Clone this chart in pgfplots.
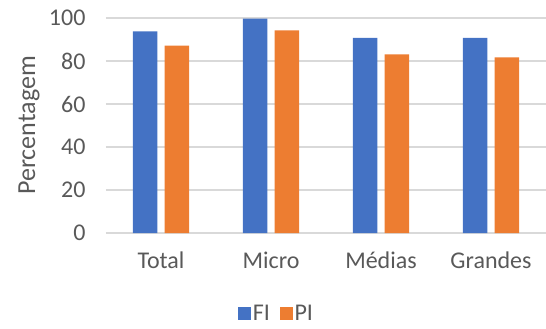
\documentclass[border=0pt]{standalone}
\usepackage{fontspec}
\setmainfont{Carlito}
\usepackage{pgfplots}
\pgfplotsset{compat=1.18}
\definecolor{fiblue}{HTML}{4472C4}
\definecolor{piorange}{HTML}{ED7D31}
\definecolor{gridgray}{HTML}{D9D9D9}
\definecolor{txtgray}{HTML}{595959}
\newcommand{\lblfont}{\fontsize{24bp}{28bp}\selectfont}
\newcommand{\ylblfont}{\fontsize{26bp}{30bp}\selectfont}
\begin{document}
\begin{tikzpicture}
\useasboundingbox (-106bp,-96bp) rectangle (440bp,233bp);
\begin{axis}[
  at={(0,0)}, anchor=south west,
  scale only axis,
  width=440bp, height=215bp,
  xmin=-0.5, xmax=3.5,
  ymin=0, ymax=100,
  ytick={0,20,...,100},
  xtick={0,1,2,3},
  xticklabels={Total,Micro,Médias,Grandes},
  ymajorgrids,
  grid style={gridgray, line width=1.2bp},
  axis line style={draw=none},
  major tick length=0pt,
  tick label style={font=\lblfont, text=txtgray},
  /pgf/number format/assume math mode=true,
  yticklabel style={xshift=-17bp},
  xticklabel style={yshift=-15bp},
  ylabel={Percentagem},
  ylabel style={font=\ylblfont, text=txtgray, at={(axis description cs:-0.175,0.5)}, anchor=center},
  ybar, bar width=0.222,
  legend columns=2,
  legend style={draw=none, fill=none, font=\lblfont, text=txtgray,
    at={(axis description cs:0.388,-0.375)}, anchor=center,
    /tikz/every even column/.append style={column sep=8bp}},
  legend image code/.code={\fill[#1] (0bp,-6.5bp) rectangle (12.5bp,6.5bp);},
]
\addplot[fill=fiblue, draw=none, bar shift=-0.145] coordinates {(0,93.8) (1,99.7) (2,90.7) (3,90.7)};
\addplot[fill=piorange, draw=none, bar shift=0.145] coordinates {(0,87.1) (1,94.3) (2,83.1) (3,81.7)};
\legend{FI,PI}
\end{axis}
\end{tikzpicture}
\end{document}
